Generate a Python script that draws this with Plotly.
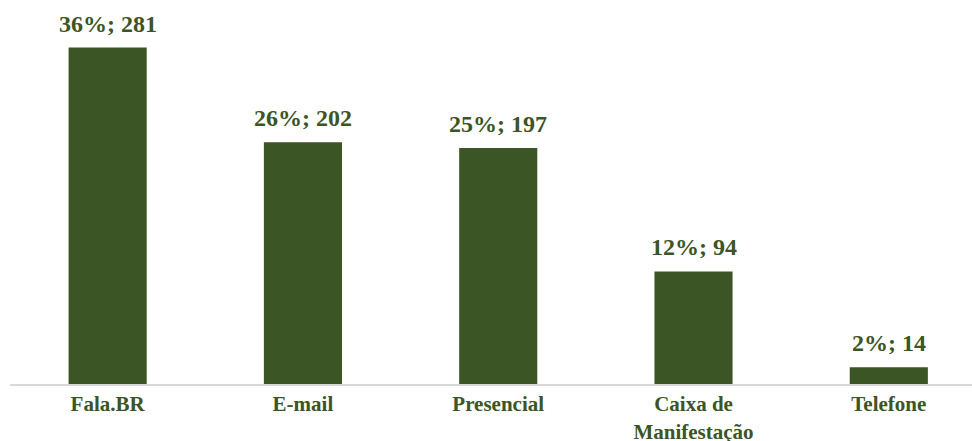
import plotly.graph_objects as go

categories = ["Fala.BR", "E-mail", "Presencial", "Caixa de<br>Manifestação", "Telefone"]
counts = [281, 202, 197, 94, 14]
percents = [36, 26, 25, 12, 2]

labels = [f"{p}%; {c}" for p, c in zip(percents, counts)]
green = "#3B5524"

xs = list(range(len(categories)))

fig = go.Figure(go.Bar(
    x=xs,
    y=counts,
    width=0.40,
    marker=dict(color=green, line=dict(width=0)),
    hoverinfo="skip",
))

for x, y, t in zip(xs, counts, labels):
    fig.add_annotation(
        x=x, y=y, text=f"<b>{t}</b>", showarrow=False,
        yanchor="bottom", yshift=9,
        font=dict(family="Liberation Serif", size=24, color=green),
    )

fig.update_layout(
    width=972, height=441,
    margin=dict(l=10, r=0, t=0, b=57, autoexpand=False),
    plot_bgcolor="white", paper_bgcolor="white",
    showlegend=False,
    xaxis=dict(
        automargin=False,
        tickmode="array",
        tickvals=xs,
        ticktext=[f"<b>{c}</b>" for c in categories],
        range=[-0.5, 4.426],
        showline=True, linecolor="#d9d9d9", linewidth=2,
        ticks="", showgrid=False, zeroline=False,
        tickfont=dict(family="Liberation Serif", size=21, color=green),
    ),
    yaxis=dict(
        automargin=False,
        range=[0, 320.7],
        showticklabels=False, showgrid=False, zeroline=False, showline=False,
    ),
)

fig.write_html(
    "out.html",
    config={"displayModeBar": False},
    post_script="document.body.style.margin='0';",
)
